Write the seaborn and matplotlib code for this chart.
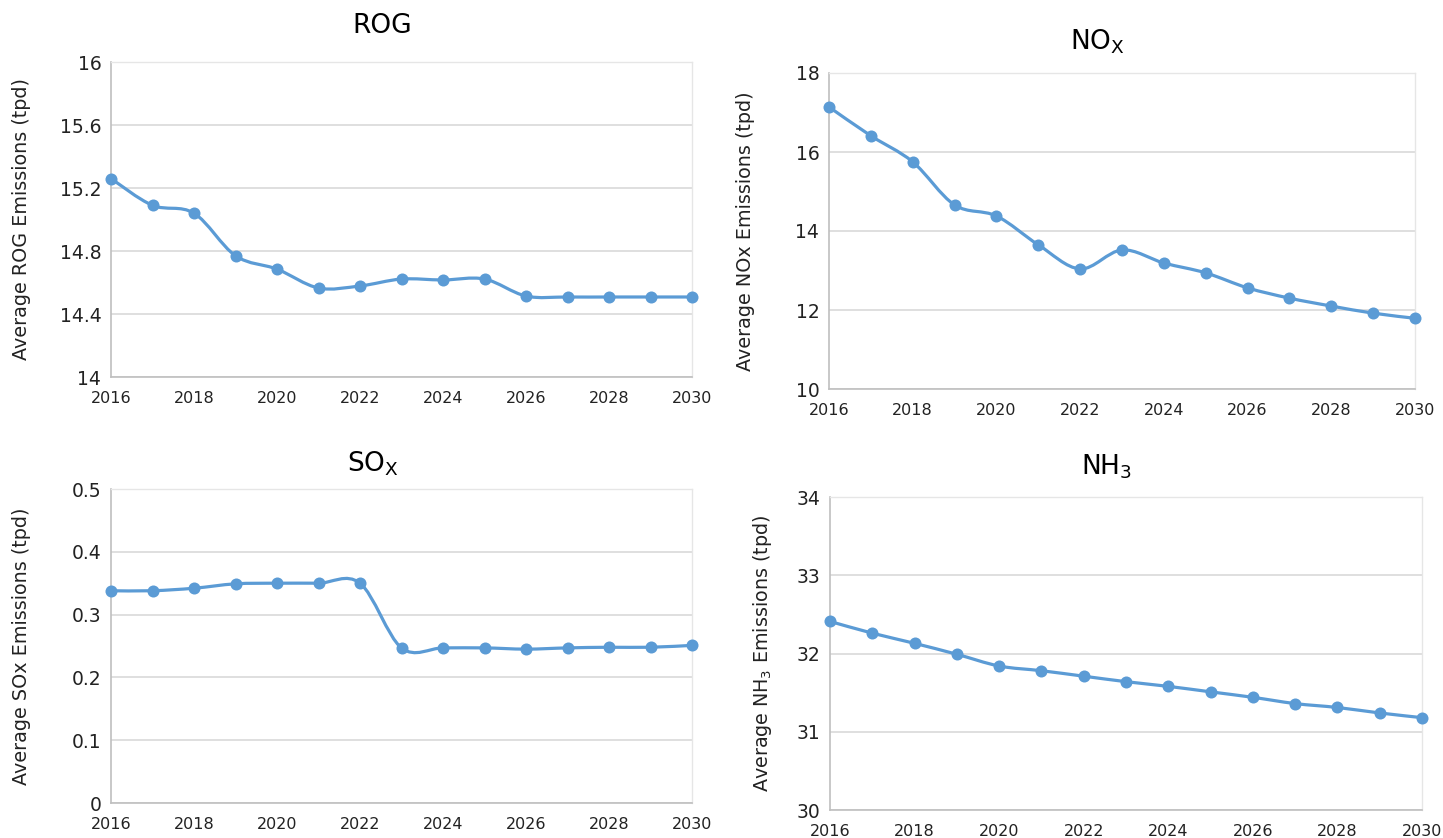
import numpy as np
import pandas as pd
import matplotlib
matplotlib.use("Agg")
import matplotlib.pyplot as plt
from matplotlib.path import Path
from matplotlib.patches import PathPatch
import seaborn as sns

years = list(range(2016, 2031))
rog = [15.26, 15.09, 15.04, 14.77, 14.685, 14.565, 14.578, 14.622, 14.616, 14.622,
       14.514, 14.508, 14.508, 14.508, 14.508]
nox = [17.14, 16.41, 15.75, 14.66, 14.38, 13.65, 13.04, 13.52, 13.19, 12.94,
       12.56, 12.30, 12.10, 11.92, 11.79]
sox = [0.338, 0.338, 0.342, 0.349, 0.350, 0.350, 0.350, 0.247, 0.247, 0.247,
       0.245, 0.247, 0.248, 0.248, 0.251]
nh3 = [32.41, 32.26, 32.13, 31.99, 31.84, 31.78, 31.71, 31.64, 31.58, 31.51,
       31.44, 31.36, 31.31, 31.24, 31.18]

x_ticks = [2016, 2018, 2020, 2022, 2024, 2026, 2028, 2030]
rog_ticks = [14, 14.4, 14.8, 15.2, 15.6, 16]
rog_ticklabels = ["14", "14.4", "14.8", "15.2", "15.6", "16"]
nox_ticks = [10, 12, 14, 16, 18]
sox_ticks = [0, 0.1, 0.2, 0.3, 0.4, 0.5]
sox_ticklabels = ["0", "0.1", "0.2", "0.3", "0.4", "0.5"]
nh3_ticks = [30, 31, 32, 33, 34]

titles = ["ROG", "NO$_{\\mathrm{X}}$", "SO$_{\\mathrm{X}}$", "NH$_{3}$"]
ylabels = ["Average ROG Emissions (tpd)", "Average NOx Emissions (tpd)",
           "Average SOx Emissions (tpd)", "Average NH$_3$ Emissions (tpd)"]

sns.set_theme(style="white")
plt.rcParams['font.family'] = ['DejaVu Sans']
plt.rcParams['mathtext.fontset'] = 'dejavusans'

COLOR = "#5B9BD5"
GRID = "#D9D9D9"

fig = plt.figure(figsize=(14.43, 8.38), dpi=100)

rects = [
    [111/1443, 1-377/838, (692-111)/1443, (377-62)/838],
    [829/1443, 1-389/838, (1415-829)/1443, (389-73)/838],
    [111/1443, 1-803/838, (692-111)/1443, (803-489)/838],
    [830/1443, 1-810/838, (1422-830)/1443, (810-497)/838],
]
title_pos = [(382, 26), (1097, 42), (373, 464), (1107, 467)]
ylab_x = [22, 745, 22, 762]
series = [rog, nox, sox, nh3]
yticks = [rog_ticks, nox_ticks, sox_ticks, nh3_ticks]
yticklabels = [rog_ticklabels, [str(t) for t in nox_ticks], sox_ticklabels,
               [str(t) for t in nh3_ticks]]


def smooth_path(xs, ys):
    xs = np.asarray(xs, float)
    ys = np.asarray(ys, float)
    n = len(xs)
    verts = [(xs[0], ys[0])]
    codes = [Path.MOVETO]
    for i in range(n - 1):
        p0 = np.array([xs[max(i - 1, 0)], ys[max(i - 1, 0)]])
        p1 = np.array([xs[i], ys[i]])
        p2 = np.array([xs[i + 1], ys[i + 1]])
        p3 = np.array([xs[min(i + 2, n - 1)], ys[min(i + 2, n - 1)]])
        c1 = p1 + (p2 - p0) / 6.0
        c2 = p2 - (p3 - p1) / 6.0
        verts += [tuple(c1), tuple(c2), tuple(p2)]
        codes += [Path.CURVE4] * 3
    return Path(verts, codes)


for k in range(4):
    ax = fig.add_axes(rects[k])
    df = pd.DataFrame({"year": years, "value": series[k]})
    patch = PathPatch(smooth_path(df["year"], df["value"]), facecolor="none",
                      edgecolor=COLOR, lw=2.3, zorder=3, clip_on=False)
    ax.add_patch(patch)
    sns.scatterplot(data=df, x="year", y="value", ax=ax, color=COLOR, s=75,
                    edgecolor=COLOR, linewidth=0, zorder=4, clip_on=False)
    ax.set_xlim(2016, 2030)
    ax.set_ylim(yticks[k][0], yticks[k][-1])
    ax.set_xticks(x_ticks)
    ax.set_xticklabels([str(t) for t in x_ticks], fontsize=11.5)
    ax.set_yticks(yticks[k])
    ax.set_yticklabels(yticklabels[k], fontsize=13.5)
    ax.set_xlabel("")
    ax.set_ylabel("")
    ax.yaxis.grid(True, color=GRID, lw=1.2)
    ax.xaxis.grid(False)
    for s in ["top", "right"]:
        ax.spines[s].set_color("#E6E6E6")
        ax.spines[s].set_linewidth(1.0)
    for s in ["left", "bottom"]:
        ax.spines[s].set_color("#BFBFBF")
        ax.spines[s].set_linewidth(1.2)
    ax.tick_params(axis="y", length=0, pad=7, colors="#222222")
    ax.tick_params(axis="x", length=0, pad=10, colors="#222222")
    fig.text(title_pos[k][0]/1443, 1-title_pos[k][1]/838, titles[k],
             ha="center", va="center", fontsize=19, color="black")
    fig.text(ylab_x[k]/1443, (rects[k][1] + rects[k][3]/2), ylabels[k],
             rotation=90, ha="center", va="center", fontsize=13.8, color="#222222")

fig.savefig("out.png", dpi=100, facecolor="white")
